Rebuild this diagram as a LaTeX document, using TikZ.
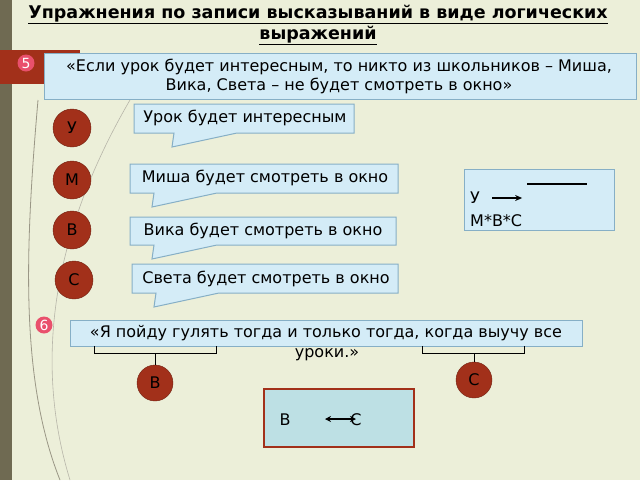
\documentclass[tikz,border=0pt]{standalone}
\usepackage{fontspec}
\setmainfont{DejaVu Sans}
\usetikzlibrary{arrows.meta,positioning,calc}
\definecolor{bgColor}{HTML}{ECEFD9}
\definecolor{barColor}{HTML}{6F6A52}
\definecolor{redColor}{HTML}{A2301A}
\definecolor{pinkColor}{HTML}{E9506C}
\definecolor{boxColor}{HTML}{D4ECF7}
\definecolor{edgeColor}{HTML}{86AFC6}
\definecolor{lastColor}{HTML}{BDE0E4}
\tikzset{
	var/.style={circle, fill=redColor, draw=redColor!70!black, minimum size=38pt, inner sep=0pt, font=\fontsize{16}{16}\selectfont},
	num/.style={circle, fill=pinkColor, text=white, minimum size=17pt, inner sep=0pt, font=\fontsize{14}{14}\selectfont},
	callout/.style={draw=edgeColor, fill=boxColor, line width=1pt},
	txt/.style={font=\fontsize{16}{19}\selectfont, inner sep=0pt}
}
\newcommand{\bubble}[5]{% x1,y1,x2,y2,tailx
	\fill[boxColor] (#1,#2) rectangle (#3,#4);
	\draw[callout] (#1,#2) -- (#3,#2) -- (#3,#4) -- ($(#5,#4)+(65,0)$) -- ($(#5,#4)+(0,14)$) -- ($(#5,#4)+(2,0)$) -- (#1,#4) -- cycle;}
\begin{document}
\begin{tikzpicture}[x=1pt,y=-1pt]
	\fill[bgColor] (0,0) rectangle (640,480);
	\useasboundingbox (0,0) rectangle (640,480);
	\fill[barColor] (0,0) rectangle (12,480);
	% thin decorative strokes
	\draw[barColor!70, line width=0.8pt] (38,100) .. controls (25,250) and (20,380) .. (60,480);
	\draw[barColor!50, line width=0.6pt] (130,100) .. controls (60,220) and (30,350) .. (70,480);
	% title
	\node[txt, font=\bfseries\fontsize{17.5}{21}\selectfont, align=center] (title) at (318,25) {\underline{Упражнения по записи высказываний в виде логических}\\\underline{выражений}};
	% task 5
	\fill[redColor] (0,50) rectangle (80,84);
	\node[num] (n5) at (26,63) {5};
	\draw[callout, fill=boxColor] (44,53) rectangle (636,99);
	\node[txt, align=center] (q5) at (339,76) {«Если урок будет интересным, то никто из школьников – Миша,\\Вика, Света – не будет смотреть в окно»};
	\node[var] (u) at (72,128) {У};
	\node[var] (m) at (72,180) {М};
	\node[var] (v) at (72,230) {В};
	\node[var] (s) at (74,280) {С};
	\bubble{134}{104}{354}{133}{172}
	\node[txt] (tu) at (245,118) {Урок будет интересным};
	\bubble{130}{164}{398}{193}{152}
	\node[txt] (tm) at (265,178) {Миша будет смотреть в окно};
	\bubble{130}{217}{396}{245}{152}
	\node[txt] (tv) at (263,231) {Вика будет смотреть в окно};
	\bubble{132}{264}{398}{293}{154}
	\node[txt] (ts) at (266,279) {Света будет смотреть в окно};
	\draw[callout] (464,169) rectangle (614,230);
	\node[txt, anchor=west] (ans) at (470,198) {У};
	\node[txt, anchor=west] (mvs) at (470,221) {М*В*С};
	\coordinate (bar1) at (527,184);
	\coordinate (bar2) at (587,184);
	\draw[line width=1.2pt] (bar1) -- (bar2);
	\draw[-{Stealth[length=7pt,width=6pt]}, line width=1.3pt] ($(ans.east)+(12,0)$) -- +(30,0);
	% task 6
	\node[num] (n6) at (44,325) {6};
	\draw[callout, fill=boxColor] (70,320) rectangle (582,346);
	\node[txt] (q6) at (326,333) {«Я пойду гулять тогда и только тогда, когда выучу все};
	\node[txt] (q6b) at (327,355) {уроки.»};
	\node[var, minimum size=36pt] (b6) at (155,383) {В};
	\node[var, minimum size=36pt] (c6) at (474,380) {С};
	\draw[line width=1pt] (94,346) -- (94,353) -- (216,353) -- (216,346);
	\draw[line width=1pt] (b6.north) -- (155,353);
	\draw[line width=1pt] (422,346) -- (422,353) -- (524,353) -- (524,346);
	\draw[line width=1pt] (c6.north) -- (474,353);
	\draw[draw=redColor, fill=lastColor, line width=2pt] (264,389) rectangle (414,447);
	\node[txt] (bb) at (285,420) {В};
	\draw[{Stealth[length=6pt,width=6pt]}-{Stealth[length=6pt,width=6pt]}, line width=1.3pt] (325,419) -- (356,419);
	\node[txt] (cc) at (356,420) {С};
\end{tikzpicture}
\end{document}
